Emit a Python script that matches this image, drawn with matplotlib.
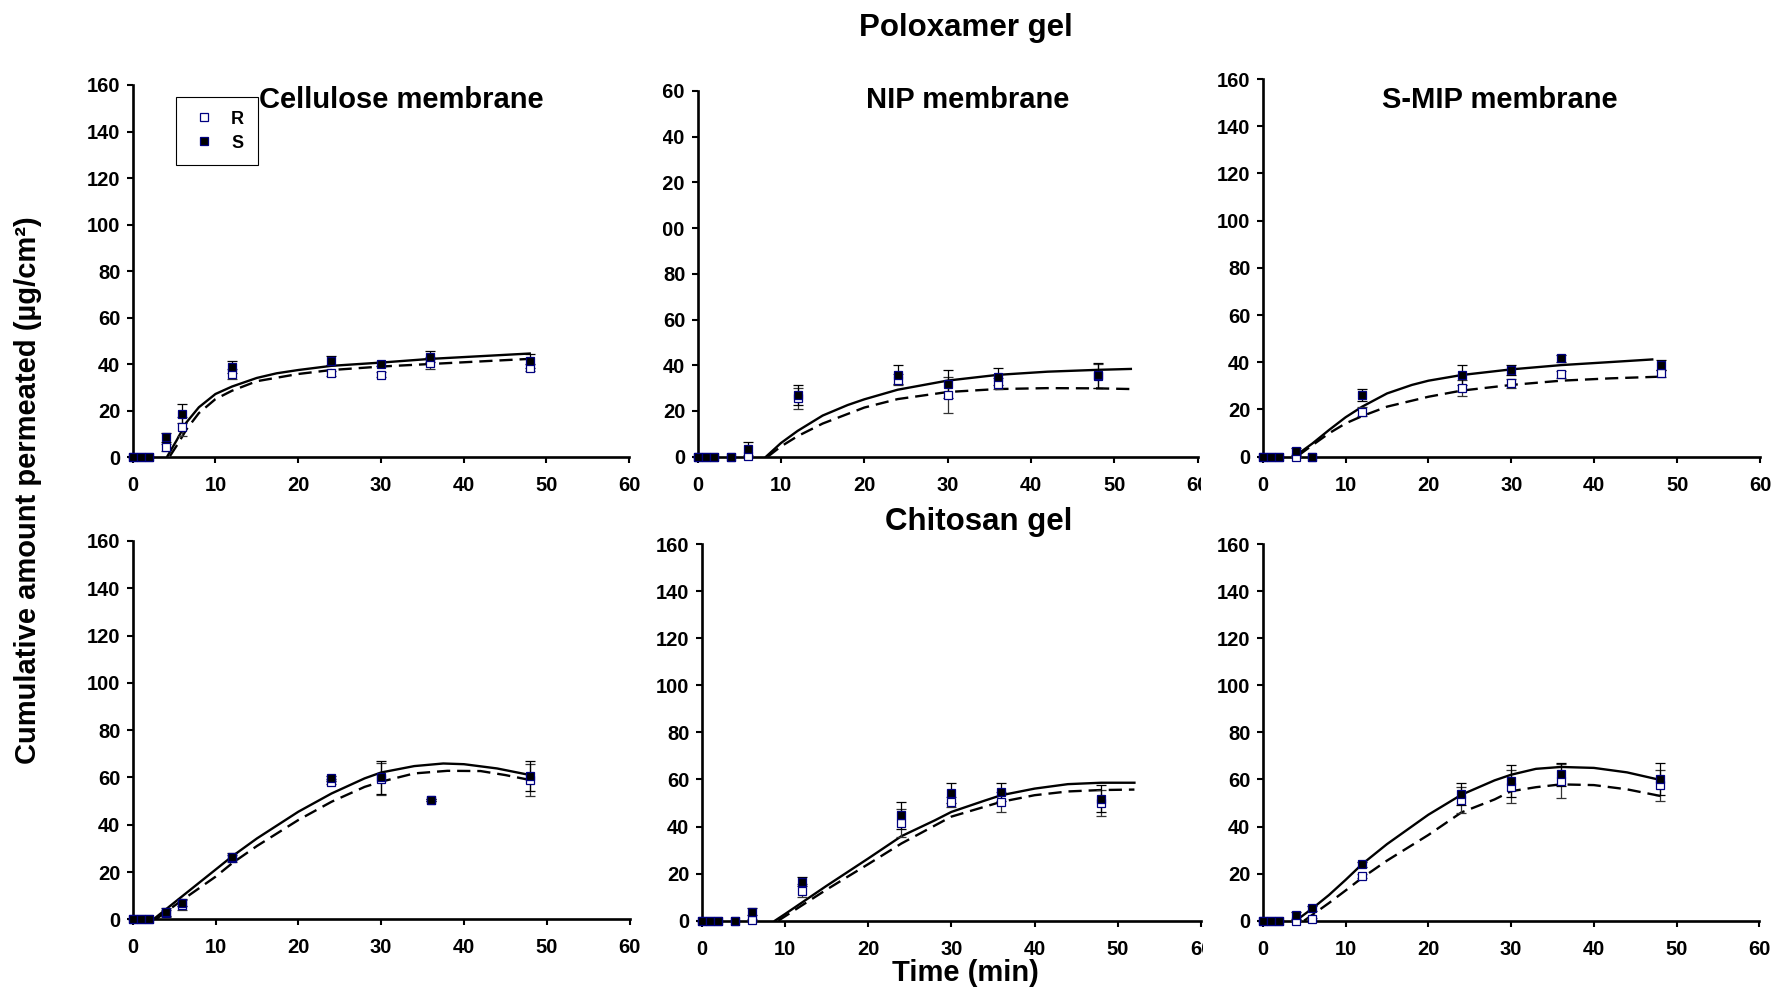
import matplotlib
matplotlib.use("Agg")
import matplotlib.pyplot as plt
from matplotlib.patches import Rectangle

plt.rcParams['font.family'] = ['Liberation Sans', 'DejaVu Sans']
plt.rcParams['font.weight'] = 'bold'
plt.rcParams['lines.scale_dashes'] = False

# Sampling times (min)
times = [0, 1, 2, 4, 6, 12, 24, 30, 36, 48]

# ---- Poloxamer gel ----
# Cellulose membrane
pol_cel_R = [0, 0, 0, 4.3, 13.2, 35.8, 36.1, 35.5, 40.4, 38.4]
pol_cel_S = [0, 0, 0, 8.6, 18.8, 39.0, 41.5, 40.1, 43.3, 41.5]
pol_cel_R_err = [0, 0, 0, 1.5, 4.0, 2.3, 1.0, 1.0, 2.6, 1.5]
pol_cel_S_err = [0, 0, 0, 2.0, 4.0, 2.6, 2.0, 1.0, 2.3, 3.0]
pol_cel_fitS_t = [4.2, 5.3, 6.5, 8, 10, 12, 15, 17.4, 20, 24, 30, 36, 48]
pol_cel_fitS_y = [0.5, 7.2, 15.0, 21.5, 27.2, 30.4, 34.1, 36.1, 37.5, 39.3, 40.7, 42.3, 44.6]
pol_cel_fitR_t = [4.5, 5.5, 6.5, 8, 10, 12, 15, 20, 24, 30, 36, 48]
pol_cel_fitR_y = [0.5, 6.0, 12.0, 19.0, 25.0, 28.6, 32.7, 35.8, 37.5, 39.0, 40.1, 42.3]

# NIP membrane
pol_nip_R = [0, 0, 0, 0, 0.3, 25.5, 33.6, 27.0, 32.0, 35.3]
pol_nip_S = [0, 0, 0, 0, 3.2, 27.0, 35.9, 31.7, 35.0, 35.6]
pol_nip_R_err = [0, 0, 0, 0, 0.5, 4.6, 2.4, 7.7, 2.5, 5.3]
pol_nip_S_err = [0, 0, 0, 0, 3.4, 4.4, 4.1, 6.1, 3.8, 5.6]
pol_nip_fitS_t = [8.2, 10, 12, 15, 18, 20, 24, 30, 36, 42, 48, 52]
pol_nip_fitS_y = [0, 6.0, 11.3, 18.0, 22.6, 25.1, 29.3, 33.3, 35.8, 37.2, 38.0, 38.4]
pol_nip_fitR_t = [8.4, 10, 12, 15, 20, 24, 30, 36, 42, 48, 52]
pol_nip_fitR_y = [0, 4.5, 9.0, 14.5, 21.5, 25.2, 28.3, 29.6, 30.0, 29.9, 29.6]

# S-MIP membrane
pol_mip_R = [0, 0, 0, 0, 0, 19.1, 29.0, 31.1, 35.0, 35.3]
pol_mip_S = [0, 0, 0, 2.3, 0, 26.1, 34.6, 36.7, 41.7, 38.8]
pol_mip_R_err = [0, 0, 0, 0, 0, 2.0, 3.3, 2.0, 1.5, 1.5]
pol_mip_S_err = [0, 0, 0, 1.5, 0, 2.5, 4.1, 2.0, 1.5, 2.0]
pol_mip_fitS_t = [4, 6, 8, 10, 12, 15, 18, 20, 24, 30, 36, 42, 47]
pol_mip_fitS_y = [0.5, 5.6, 11.3, 16.7, 21.2, 26.8, 30.4, 32.2, 34.6, 37.0, 38.8, 40.1, 41.2]
pol_mip_fitR_t = [4.3, 6, 8, 10, 12, 15, 20, 24, 30, 36, 42, 48]
pol_mip_fitR_y = [0.5, 4.9, 9.9, 14.1, 17.2, 21.2, 25.4, 28.0, 30.4, 32.2, 33.2, 33.9]

# ---- Chitosan gel ----
# Cellulose membrane
chi_cel_R = [0, 0, 0, 2.5, 6.0, 25.8, 58.2, 59.2, 50.4, 58.9]
chi_cel_S = [0, 0, 0, 3.1, 7.0, 26.5, 59.6, 60.0, 50.4, 60.6]
chi_cel_R_err = [0, 0, 0, 1.5, 2.0, 1.5, 1.0, 6.7, 0.5, 6.8]
chi_cel_S_err = [0, 0, 0, 1.5, 1.5, 1.5, 1.0, 7.0, 0.5, 6.3]
chi_cel_fitS_t = [2.5, 4, 6, 8, 10, 12, 15, 20, 24, 28, 30, 34, 37.5, 40, 44, 48]
chi_cel_fitS_y = [0, 4.2, 9.8, 15.4, 21.0, 26.6, 34.2, 45.5, 53.2, 59.6, 62.1, 64.8, 65.9, 65.6, 63.8, 61.0]
chi_cel_fitR_t = [2.8, 6, 10, 12, 15, 20, 24, 28, 30, 34, 38, 42, 45, 48]
chi_cel_fitR_y = [0, 8.2, 18.0, 23.7, 31.0, 42.0, 49.7, 56.0, 58.2, 61.7, 62.8, 62.7, 61.0, 58.9]

# NIP membrane
chi_nip_R = [0, 0, 0, 0, 0.3, 12.7, 41.6, 50.5, 50.5, 50.0]
chi_nip_S = [0, 0, 0, 0, 3.8, 16.5, 44.8, 54.3, 54.5, 51.9]
chi_nip_R_err = [0, 0, 0, 0, 0.5, 2.8, 6.0, 2.1, 4.2, 5.6]
chi_nip_S_err = [0, 0, 0, 0, 1.5, 1.9, 5.8, 4.3, 3.8, 5.8]
chi_nip_fitS_t = [8.8, 10, 12, 15, 20, 24, 28, 30, 34, 36, 40, 44, 48, 52]
chi_nip_fitS_y = [0, 2.8, 7.6, 14.8, 26.4, 35.9, 42.6, 46.2, 51.0, 53.3, 56.1, 58.0, 58.6, 58.6]
chi_nip_fitR_t = [9.2, 12, 15, 20, 24, 30, 36, 40, 44, 48, 52]
chi_nip_fitR_y = [0, 6.4, 13.2, 24.0, 32.8, 44.2, 50.5, 53.3, 54.9, 55.5, 55.7]

# S-MIP membrane
chi_mip_R = [0, 0, 0, 0, 0.7, 19.0, 51.2, 56.9, 59.4, 57.6]
chi_mip_S = [0, 0, 0, 2.4, 5.2, 24.0, 53.7, 59.4, 62.2, 60.0]
chi_mip_R_err = [0, 0, 0, 0, 0.5, 1.0, 5.4, 6.9, 7.1, 6.6]
chi_mip_S_err = [0, 0, 0, 1.5, 1.0, 1.0, 4.6, 6.9, 4.8, 6.8]
chi_mip_fitS_t = [4, 6, 8, 10, 12, 15, 20, 24, 28, 30, 33, 36, 40, 44, 48]
chi_mip_fitS_y = [0, 5.2, 10.9, 17.3, 24.0, 32.5, 45.0, 53.5, 59.6, 62.0, 64.5, 65.3, 64.9, 63.0, 59.8]
chi_mip_fitR_t = [5, 6, 8, 10, 12, 15, 20, 24, 28, 30, 33, 36, 40, 44, 48]
chi_mip_fitR_y = [0, 2.5, 7.5, 12.8, 18.2, 25.5, 36.4, 46.0, 51.5, 55.0, 56.7, 57.9, 57.6, 55.8, 53.0]

panel_titles = ["Cellulose membrane", "NIP membrane", "S-MIP membrane"]
x_ticks = [0, 10, 20, 30, 40, 50, 60]
y_ticks = [0, 20, 40, 60, 80, 100, 120, 140, 160]

panels = [
    (pol_cel_R, pol_cel_S, pol_cel_R_err, pol_cel_S_err, pol_cel_fitS_t, pol_cel_fitS_y, pol_cel_fitR_t, pol_cel_fitR_y),
    (pol_nip_R, pol_nip_S, pol_nip_R_err, pol_nip_S_err, pol_nip_fitS_t, pol_nip_fitS_y, pol_nip_fitR_t, pol_nip_fitR_y),
    (pol_mip_R, pol_mip_S, pol_mip_R_err, pol_mip_S_err, pol_mip_fitS_t, pol_mip_fitS_y, pol_mip_fitR_t, pol_mip_fitR_y),
    (chi_cel_R, chi_cel_S, chi_cel_R_err, chi_cel_S_err, chi_cel_fitS_t, chi_cel_fitS_y, chi_cel_fitR_t, chi_cel_fitR_y),
    (chi_nip_R, chi_nip_S, chi_nip_R_err, chi_nip_S_err, chi_nip_fitS_t, chi_nip_fitS_y, chi_nip_fitR_t, chi_nip_fitR_y),
    (chi_mip_R, chi_mip_S, chi_mip_R_err, chi_mip_S_err, chi_mip_fitS_t, chi_mip_fitS_y, chi_mip_fitR_t, chi_mip_fitR_y),
]

W, H = 1778, 992
fig = plt.figure(figsize=(W / 100, H / 100), dpi=100)
fig.patch.set_facecolor('white')

# axes boxes in pixels: left, right, top, bottom
boxes = [
    (132.7, 629.0, 85.0, 457.3),
    (697.7, 1197.5, 91.0, 456.7),
    (1262.7, 1760.0, 79.0, 456.7),
    (132.7, 629.6, 541.0, 919.3),
    (701.7, 1201.0, 544.0, 920.7),
    (1262.7, 1759.5, 544.0, 920.7),
]

navy = '#000080'
axes = []
for i, (box, data) in enumerate(zip(boxes, panels)):
    l, r, t, b = box
    ax = fig.add_axes([l / W, 1 - b / H, (r - l) / W, (b - t) / H])
    axes.append(ax)
    R, S, Re, Se, fst, fsy, frt, fry = data

    ax.plot(fst, fsy, color='black', lw=1.7, zorder=2)
    ax.plot(frt, fry, color='black', lw=1.7, dashes=(9.5, 5), zorder=2)

    ax.errorbar(times, R, yerr=Re, fmt='none', ecolor='#333333', elinewidth=0.9,
                capsize=3.6, capthick=0.9, zorder=3, clip_on=False)
    ax.errorbar(times, S, yerr=Se, fmt='none', ecolor='black', elinewidth=0.9,
                capsize=3.6, capthick=0.9, zorder=3, clip_on=False)
    ax.plot(times, R, ls='none', marker='s', ms=5.2, mfc='white', mec=navy,
            mew=0.9, zorder=4, clip_on=False, label='R')
    ax.plot(times, S, ls='none', marker='s', ms=5.2, mfc='black', mec=navy,
            mew=0.9, zorder=5, clip_on=False, label='S')

    ax.set_xlim(0, 60)
    ax.set_ylim(0, 160)
    ax.set_xticks(x_ticks)
    ax.set_yticks(y_ticks)
    for side in ('top', 'right'):
        ax.spines[side].set_visible(False)
    for side in ('left', 'bottom'):
        ax.spines[side].set_linewidth(1.9)
    ax.tick_params(axis='both', direction='out', length=4.3, width=1.5,
                   labelsize=14.5)
    ax.tick_params(axis='x', pad=9.5)
    ax.tick_params(axis='y', pad=4.5)
    for lab in ax.get_xticklabels() + ax.get_yticklabels():
        lab.set_fontweight('bold')

# Legend in the first panel
leg = axes[0].legend(loc='upper left', bbox_to_anchor=(176 / W, 1 - 97 / H),
                     bbox_transform=fig.transFigure, borderaxespad=0,
                     frameon=True, fancybox=False, framealpha=1,
                     edgecolor='black', prop={'size': 13, 'weight': 'bold'},
                     handlelength=1.6, handletextpad=0.7, borderpad=0.75,
                     labelspacing=0.4, numpoints=1)
leg.get_frame().set_linewidth(0.8)
leg.set_zorder(10)

# Panel titles
title_x = [401, 968, 1500]
for x, txt in zip(title_x, panel_titles):
    fig.text(x / W, 1 - 107.5 / H, txt, ha='center', va='baseline',
             fontsize=21, fontweight='bold')

fig.text(966 / W, 1 - 36 / H, "Poloxamer gel", ha='center', va='baseline',
         fontsize=22.5, fontweight='bold')
fig.text(979 / W, 1 - 530 / H, "Chitosan gel", ha='center', va='baseline',
         fontsize=22.5, fontweight='bold')
fig.text(965 / W, 1 - 981 / H, "Time (min)", ha='center', va='baseline',
         fontsize=21, fontweight='bold')
fig.text(28 / W, 1 - 490 / H, "Cumulative amount permeated (µg/cm²)",
         ha='center', va='center', rotation=90, fontsize=21, fontweight='bold')

# White bands where neighbouring panels overlap the tick labels
def white_band(x0, x1, y0, y1):
    fig.add_artist(Rectangle((x0 / W, 1 - y1 / H), (x1 - x0) / W, (y1 - y0) / H,
                             transform=fig.transFigure, facecolor='white',
                             edgecolor='none', zorder=20))

white_band(640, 663, 78, 330)
white_band(1201, 1216, 468, 500)
white_band(1203, 1216, 930, 962)

fig.savefig('out.png', dpi=100, facecolor='white')
